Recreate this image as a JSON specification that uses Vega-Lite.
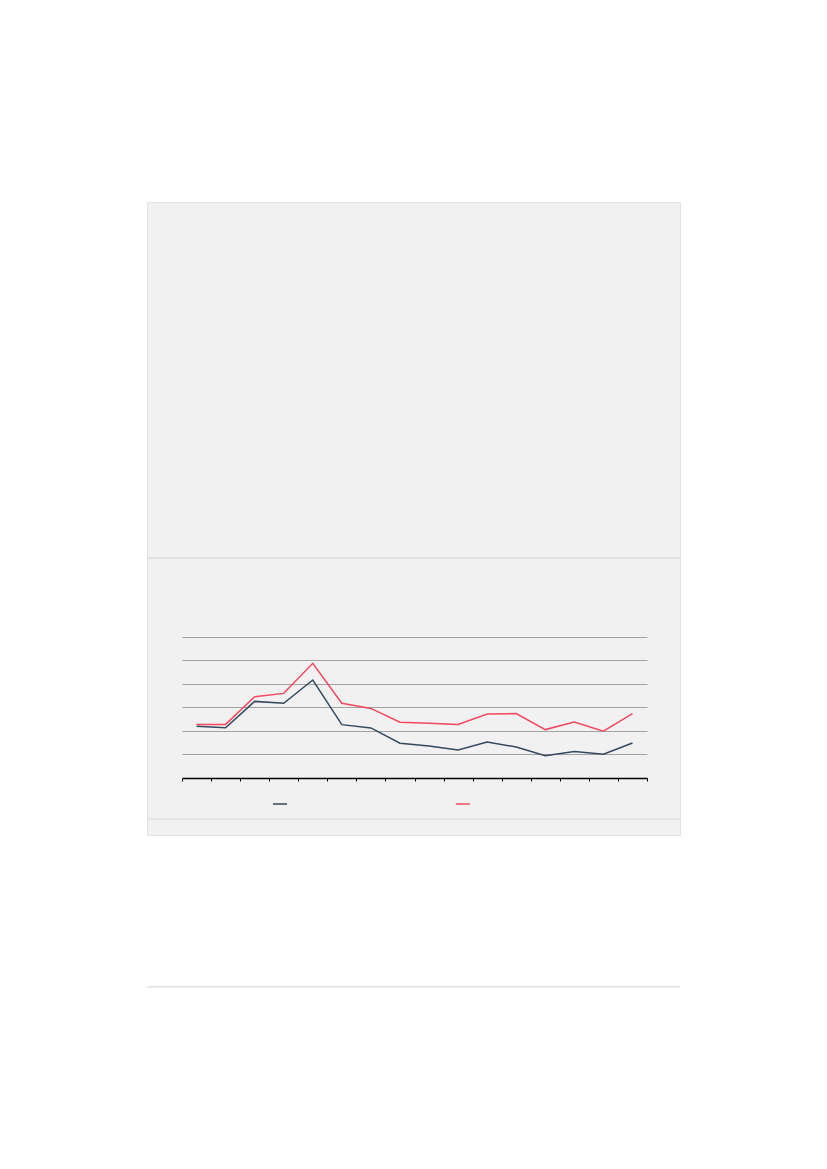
{
  "$schema": "https://vega.github.io/schema/vega-lite/v6.json",
  "width": 533,
  "height": 633,
  "padding": {"left": 146, "top": 202, "right": 0, "bottom": 0},
  "background": "#ffffff",
  "config": {
    "view": {"fill": "#f1f1f1", "stroke": "#e2e2e2", "strokeWidth": 1}
  },
  "datasets": {
    "series": [
      {"period": 1, "series": "A", "value": 22.0},
      {"period": 2, "series": "A", "value": 21.4},
      {"period": 3, "series": "A", "value": 32.6},
      {"period": 4, "series": "A", "value": 31.8},
      {"period": 5, "series": "A", "value": 41.7},
      {"period": 6, "series": "A", "value": 22.7},
      {"period": 7, "series": "A", "value": 21.3},
      {"period": 8, "series": "A", "value": 14.8},
      {"period": 9, "series": "A", "value": 13.6},
      {"period": 10, "series": "A", "value": 11.9},
      {"period": 11, "series": "A", "value": 15.3},
      {"period": 12, "series": "A", "value": 13.2},
      {"period": 13, "series": "A", "value": 9.5},
      {"period": 14, "series": "A", "value": 11.3},
      {"period": 15, "series": "A", "value": 10.1},
      {"period": 16, "series": "A", "value": 14.9},
      {"period": 1, "series": "B", "value": 22.8},
      {"period": 2, "series": "B", "value": 22.8},
      {"period": 3, "series": "B", "value": 34.6},
      {"period": 4, "series": "B", "value": 36.0},
      {"period": 5, "series": "B", "value": 48.8},
      {"period": 6, "series": "B", "value": 31.8},
      {"period": 7, "series": "B", "value": 29.6},
      {"period": 8, "series": "B", "value": 23.7},
      {"period": 9, "series": "B", "value": 23.3},
      {"period": 10, "series": "B", "value": 22.8},
      {"period": 11, "series": "B", "value": 27.2},
      {"period": 12, "series": "B", "value": 27.4},
      {"period": 13, "series": "B", "value": 20.6},
      {"period": 14, "series": "B", "value": 23.8},
      {"period": 15, "series": "B", "value": 19.9},
      {"period": 16, "series": "B", "value": 27.4}
    ],
    "dividers": [
      {"level": 93.6, "tone": "panel"},
      {"level": -17.45, "tone": "panel"},
      {"level": -88.9, "tone": "page"}
    ]
  },
  "layer": [
    {
      "data": {"name": "dividers"},
      "mark": {"type": "rule", "strokeWidth": 1.2},
      "encoding": {
        "y": {"field": "level", "type": "quantitative"},
        "color": {
          "field": "tone",
          "type": "nominal",
          "scale": {"domain": ["panel", "page"], "range": ["#d9d9d9", "#dcdcdc"]},
          "legend": null
        }
      }
    },
    {
      "data": {"name": "series"},
      "mark": {"type": "line", "strokeWidth": 1.5},
      "encoding": {
        "x": {
          "field": "period",
          "type": "ordinal",
          "scale": {"type": "band", "range": [35, 500], "paddingInner": 0, "paddingOuter": 0},
          "axis": {
            "title": null,
            "labels": false,
            "offset": -57,
            "domainColor": "#000000",
            "domainWidth": 1.5,
            "tickColor": "#000000",
            "tickBand": "extent",
            "tickSize": 3,
            "tickWidth": 1
          }
        },
        "y": {
          "field": "value",
          "type": "quantitative",
          "scale": {"domain": [-24.26, 245.1], "nice": false, "zero": false},
          "axis": {
            "title": null,
            "labels": false,
            "ticks": false,
            "domain": false,
            "values": [10, 20, 30, 40, 50, 60],
            "gridColor": "#a3a3a3",
            "gridWidth": 1
          }
        },
        "color": {
          "field": "series",
          "type": "nominal",
          "scale": {"domain": ["A", "B"], "range": ["#34495e", "#f2485f"]},
          "legend": {
            "title": null,
            "orient": "none",
            "legendX": 125,
            "legendY": 594,
            "direction": "horizontal",
            "symbolType": "stroke",
            "symbolSize": 196,
            "symbolStrokeWidth": 1.5,
            "labelExpr": "''",
            "labelOffset": 0,
            "labelFontSize": 1,
            "columnPadding": 163
          }
        }
      }
    }
  ],
  "resolve": {"scale": {"color": "independent"}}
}
